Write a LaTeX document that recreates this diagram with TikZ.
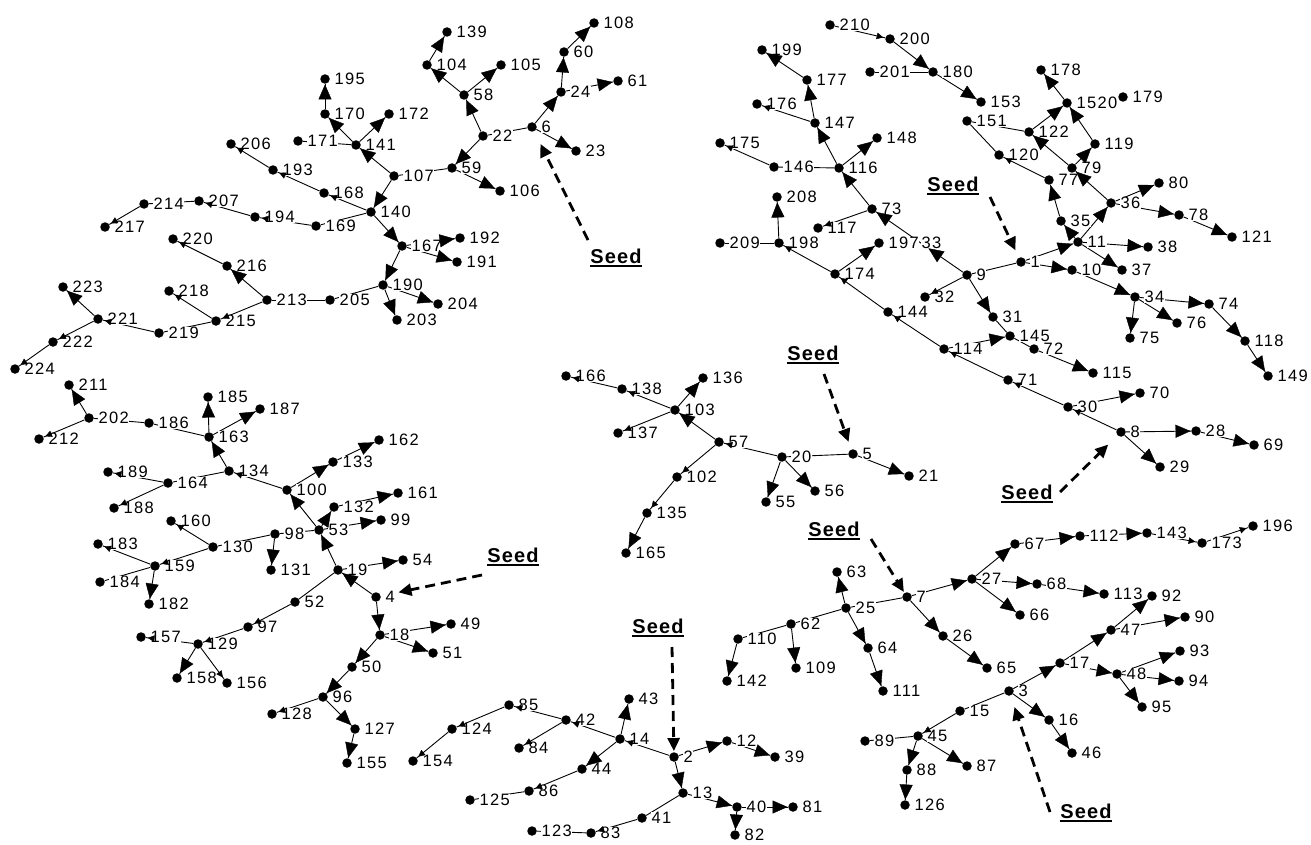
\documentclass[tikz,border=0pt]{standalone}
\usepackage{fontspec}
\usetikzlibrary{arrows.meta,decorations.markings}
\newfontfamily\labfam[LetterSpace=8]{Liberation Sans}
\newfontfamily\seedfam[LetterSpace=6]{Liberation Sans}
\newcommand\seedtxt{\setbox0\hbox{Seed}\rlap{\rule[-3.5pt]{\wd0}{2pt}}\box0}
\pgfdeclarelayer{bg}
\pgfdeclarelayer{fg}
\pgfsetlayers{bg,main,fg}
\tikzset{
  dot/.style={circle,fill=black,inner sep=0pt,minimum size=9.5pt},
  lab/.style={inner sep=0.5pt,fill=white,font=\labfam\fontsize{16.5}{16.5}\selectfont},
  every label/.style={lab},
  edg/.style={line width=0.9pt},
  ab/.style={postaction={decorate},decoration={markings,mark=at position -0.5pt with {\arrow{Triangle[length=15pt,width=13pt]}}}},
  as/.style={postaction={decorate},decoration={markings,mark=at position -2pt with {\arrow{Triangle[length=6.5pt,width=6.5pt]}}}},
  seedlab/.style={inner sep=1pt,font=\seedfam\bfseries\fontsize{20}{20}\selectfont},
  seedarr/.style={line width=2.8pt,dash pattern=on 10pt off 6pt,-{Triangle[length=13pt,width=12pt]}}
}
\def\bigE{
 6/24, 24/60, 60/108, 24/61, 6/23, 22/58, 58/104, 104/139, 58/105, 22/59, 59/106,
 107/141, 141/170, 170/195, 141/172, 107/140, 140/167, 167/192, 167/191, 167/190,
 190/204, 190/203, 213/216, 221/223,
 4/19, 19/54, 19/53, 53/99, 53/132, 132/161, 53/100, 100/133, 133/162, 134/163,
 163/185, 163/187, 202/211, 98/131, 159/182, 129/158, 4/18, 18/49, 18/51, 18/50,
 50/96, 96/127, 127/155,
 2/12, 12/39, 2/13, 13/40, 40/81, 40/82, 14/43, 14/44,
 5/21, 20/55, 20/56, 57/103, 103/136, 135/165,
 30/70, 8/28, 28/69, 8/29, 114/145, 9/31, 72/115, 9/33, 1/10, 1/11, 11/38, 11/37,
 11/35, 35/77, 79/122, 122/1520, 1520/178, 79/119, 119/1520, 11/36, 36/79, 36/80,
 36/78, 78/121, 10/34, 34/74, 74/118, 118/149, 34/76, 34/75, 198/208, 174/197,
 33/73, 73/116, 116/148, 116/147, 147/177, 177/199, 180/153, 200/180,
 25/63, 110/142, 62/109, 25/64, 64/111, 7/26, 26/65, 7/27, 27/67, 67/112, 112/143,
 27/68, 68/113, 27/66, 3/17, 17/47, 47/92, 47/90, 17/48, 48/93, 48/94, 48/95,
 3/16, 16/46, 45/88, 88/126, 45/87}
\def\smallE{
 140/168, 168/193, 193/206, 169/194, 194/207, 214/217, 216/220, 213/215, 215/218,
 219/221, 221/222, 222/224,
 100/134, 202/212, 164/189, 164/188, 130/160, 130/159, 159/183, 52/97, 97/129,
 129/157, 129/156, 96/128,
 41/83, 2/14, 14/42, 42/85, 85/124, 124/154, 42/84, 44/86,
 20/57, 103/138, 138/166, 103/137, 57/102, 102/135,
 8/30, 30/71, 71/114, 114/144, 144/174, 174/198, 9/32, 77/120, 73/117, 146/175,
 147/176, 210/200,
 143/173, 173/196, 15/45}
\def\plainE{
 6/22, 59/107, 141/171, 140/169, 207/214, 190/205, 205/213, 215/219,
 163/186, 186/202, 134/164, 53/98, 98/130, 159/184, 19/52,
 13/41, 83/123, 86/125, 5/20,
 145/31, 145/72, 1/9, 120/151, 151/122, 198/209, 116/146, 180/201,
 7/25, 25/62, 62/110, 3/15, 45/89}
\begin{document}
\begin{tikzpicture}[x=1pt,y=-1pt,label distance=4pt]
\useasboundingbox (0,0) rectangle (1311,845);
% ---------- nodes ----------
\foreach \n/\x/\y in {
 6/532/127, 22/483/136, 24/561/92, 60/564/52, 108/594/23, 61/618/81, 23/576/151,
 58/464/95, 104/427/65, 139/447/32, 105/501/65, 59/452/168, 106/500/191, 107/394/176,
 141/356/145, 172/389/114, 170/325/114, 195/325/79, 171/298/141, 140/371/212,
 168/324/193, 169/316/226, 167/402/246, 192/460/238, 191/457/262, 190/383/285,
 204/438/304, 203/397/320, 205/330/300, 193/273/170, 206/231/144, 194/255/217,
 207/199/201, 214/144/204, 217/105/227, 220/173/239, 216/227/266, 213/267/300,
 215/216/321, 218/169/291, 219/159/333, 221/98/319, 223/63/287, 222/53/342, 224/15/369,
 211/69/385, 202/89/418, 212/39/439, 186/149/423, 163/209/437, 185/208/397, 187/260/409,
 134/229/471, 164/168/483, 189/108/472, 188/114/508, 100/287/490, 133/333/462,
 162/379/440, 132/334/507, 161/398/493, 53/319/530, 99/381/520, 98/275/534,
 131/271/570, 130/213/547, 160/171/521, 159/155/566, 183/98/544, 184/100/582,
 182/149/604, 19/338/570, 54/403/560, 4/376/597, 52/295/602, 97/248/627, 129/198/644,
 157/141/637, 158/177/678, 156/227/683, 18/380/635, 49/451/624, 51/433/653, 50/352/667,
 96/323/697, 128/272/714, 127/355/729, 155/347/763,
 2/674/757, 12/727/741, 39/775/757, 13/683/793, 40/737/807, 81/793/807, 82/735/835,
 14/620/739, 43/629/699, 42/566/720, 85/509/705, 124/452/729, 154/413/761, 84/519/748,
 44/582/769, 86/529/791, 125/470/800, 41/642/818, 83/591/833, 123/532/831,
 5/853/454, 21/909/476, 20/782/457, 55/766/502, 56/815/491, 57/719/442, 103/675/410,
 136/703/378, 138/622/389, 166/566/376, 137/618/433, 102/677/477, 135/647/513, 165/626/553,
 9/967/275, 1/1021/262, 10/1072/270, 11/1078/242, 38/1148/247, 37/1122/270, 35/1061/221,
 77/1049/180, 79/1072/168, 119/1095/144, 1520/1067/103, 178/1041/70, 179/1123/97,
 122/1029/132, 151/967/121, 153/981/102, 120/999/155, 36/1111/203, 80/1159/183,
 78/1179/215, 121/1232/237, 34/1135/297, 74/1209/304, 118/1245/341, 149/1268/376,
 76/1177/323, 75/1130/338, 31/993/317, 145/1010/336, 72/1034/349, 115/1093/373,
 71/1008/380, 30/1068/407, 70/1140/393, 8/1121/432, 28/1196/431, 69/1254/445,
 29/1160/467, 114/944/349, 144/888/312, 32/925/297, 174/835/274, 197/879/243,
 73/872/209, 117/818/228, 116/839/168, 148/877/138, 146/774/167, 175/720/143,
 147/815/123, 176/757/104, 177/807/80, 199/762/50, 198/779/243, 208/777/197,
 209/720/243, 210/830/25, 200/890/39, 201/870/72, 180/933/72,
 7/907/597, 25/846/608, 63/837/572, 62/791/624, 110/738/639, 142/727/681, 109/796/668,
 64/868/648, 111/883/691, 26/943/636, 65/987/668, 27/972/579, 67/1015/544,
 112/1080/536, 143/1147/533, 173/1202/543, 196/1253/526, 68/1037/584, 113/1104/594,
 92/1152/596, 66/1020/615, 3/1009/691, 17/1060/663, 47/1111/630, 90/1185/617,
 48/1117/674, 93/1180/651, 94/1179/681, 95/1142/707, 16/1049/720, 46/1072/753,
 15/960/711, 45/918/736, 89/865/741, 88/907/770, 126/905/805, 87/967/766}
 \node[dot,label={right:\n}] (\n) at (\x,\y) {};
\coordinate (33) at (928,248);
\node[lab,anchor=west] (l33) at (921,243) {33};
% ---------- connector lines ----------
\begin{pgfonlayer}{bg}
\foreach \a/\b in \bigE {\draw[edg] (\a) -- (\b);}
\foreach \a/\b in \smallE {\draw[edg] (\a) -- (\b);}
\foreach \a/\b in \plainE {\draw[edg] (\a) -- (\b);}
\end{pgfonlayer}
% ---------- arrowheads ----------
\begin{pgfonlayer}{fg}
\foreach \a/\b in \bigE {\path[ab] (\a) -- (\b);}
\foreach \a/\b in \smallE {\path[as] (\a) -- (\b);}
\end{pgfonlayer}
% ---------- seeds ----------
\node[seedlab] (s1) at (616,258) {\seedtxt};
\node[seedlab] (s2) at (513,557) {\seedtxt};
\node[seedlab] (s3) at (658,628) {\seedtxt};
\node[seedlab] (s4) at (813,355) {\seedtxt};
\node[seedlab] (s5) at (834,531) {\seedtxt};
\node[seedlab] (s6) at (953,186) {\seedtxt};
\node[seedlab] (s7) at (1027,494) {\seedtxt};
\node[seedlab] (s8) at (1086,813) {\seedtxt};
\coordinate (c1) at (588,240);
\coordinate (c2) at (482,575);
\coordinate (c3) at (672,647);
\coordinate (c4) at (824,374);
\coordinate (c5) at (871,539);
\coordinate (c6) at (990,197);
\coordinate (c7) at (1060,492);
\coordinate (c8) at (1050,812);
\draw[seedarr,shorten >=14pt] (c1) -- (6);
\draw[seedarr,shorten >=18pt] (c2) -- (4);
\draw[seedarr,shorten >=1pt] (c3) -- (2);
\draw[seedarr,shorten >=8pt] (c4) -- (5);
\draw[seedarr,shorten >=1pt] (c5) -- (7);
\draw[seedarr,shorten >=8pt] (c6) -- (1);
\draw[seedarr,shorten >=13pt] (c7) -- (8);
\draw[seedarr,shorten >=12pt] (c8) -- (3);
\end{tikzpicture}
\end{document}
